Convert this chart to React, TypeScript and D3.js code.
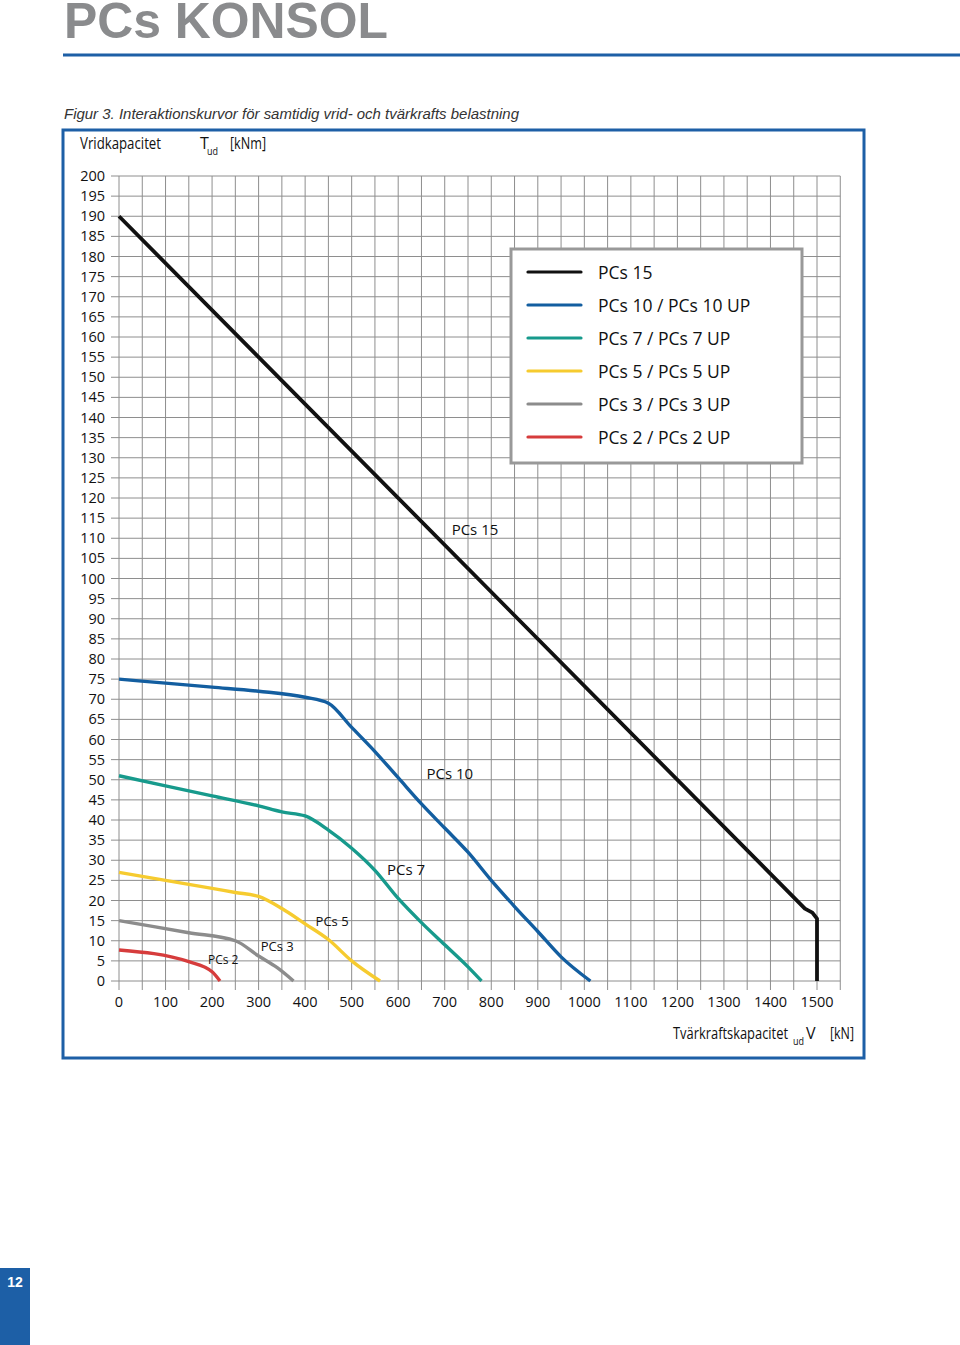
import * as d3 from "d3";

// curve data: [V_ud kN, T_ud kNm]
const pcs15: [number, number][] = [[0, 190], [1474, 18], [1490, 17], [1500, 15.5], [1500, 0]];
const pcs10: [number, number][] = [[0, 75], [100, 74], [200, 73], [300, 72], [400, 70.5], [450, 69], [500, 63], [550, 57], [600, 50.5], [650, 44], [700, 38], [750, 32], [800, 25], [850, 18.5], [900, 12.3], [950, 6], [1013, 0]];
const pcs7: [number, number][] = [[0, 51], [100, 48.5], [200, 46], [300, 43.5], [350, 42], [400, 41], [450, 37.5], [500, 33], [550, 27.5], [600, 20.5], [650, 14.5], [700, 9], [750, 3.5], [779, 0]];
const pcs5: [number, number][] = [[0, 27], [100, 25], [200, 23], [250, 22], [300, 21], [350, 18], [400, 14.2], [450, 10.3], [500, 5], [561, 0]];
const pcs3: [number, number][] = [[0, 15], [150, 12], [250, 10], [300, 6.2], [340, 3.3], [375, 0]];
const pcs2: [number, number][] = [[0, 7.7], [150, 4.8], [200, 2.3], [217, 0]];

const seriesNames = ["PCs 15", "PCs 10 / PCs 10 UP", "PCs 7 / PCs 7 UP", "PCs 5 / PCs 5 UP", "PCs 3 / PCs 3 UP", "PCs 2 / PCs 2 UP"];
const seriesColors = ["#111111", "#135ea0", "#179a8c", "#f6cb2f", "#8c8c8c", "#d63c3c"];
const seriesData = [pcs15, pcs10, pcs7, pcs5, pcs3, pcs2];

// curve labels: text, data position of the label centre/baseline, font size
const curveLabels: [string, number, number, number][] = [
  ["PCs 15", 765, 110.8, 15],
  ["PCs 10", 711, 50.2, 15],
  ["PCs 7", 617, 26.3, 15],
  ["PCs 5", 458, 13.7, 13],
  ["PCs 3", 340, 7.5, 13],
  ["PCs 2", 224, 4.2, 12],
];

const xTicks = d3.range(0, 1501, 100);
const yTicks = d3.range(0, 201, 5);
const xGrid = d3.range(0, 1551, 50);

const W = 960;
const H = 1345;
const BLUE = "#1d5fa6";

export default function App() {
  const x = d3.scaleLinear().domain([0, 1500]).range([119, 817]);
  const y = d3.scaleLinear().domain([0, 200]).range([981, 176]);
  const line = d3
    .line<[number, number]>()
    .x((d) => x(d[0]))
    .y((d) => y(d[1]))
    .curve(d3.curveMonotoneX);
  const line15 = d3
    .line<[number, number]>()
    .x((d) => x(d[0]))
    .y((d) => y(d[1]));

  const font = "'Open Sans', 'Noto Sans', sans-serif";
  const fit = "spacingAndGlyphs";

  return (
    <div style={{ position: "absolute", left: 0, top: 0 }}>
      <svg width={W} height={H} viewBox={`0 0 ${W} ${H}`} style={{ display: "block", background: "#fff" }}>
        {/* header */}
        <text x={64} y={38} fontFamily="'Liberation Sans', Arial, sans-serif" fontWeight="bold" fontSize={50} fill="#8a8b8d" textLength={324} lengthAdjust={fit}>
          PCs KONSOL
        </text>
        <line x1={63} x2={960} y1={55} y2={55} stroke={BLUE} strokeWidth={3} />
        <text x={64} y={119} fontFamily="'Liberation Sans', Arial, sans-serif" fontStyle="italic" fontSize={15} fill="#333" textLength={455} lengthAdjust={fit}>
          Figur 3. Interaktionskurvor för samtidig vrid- och tvärkrafts belastning
        </text>

        {/* frame */}
        <rect x={63} y={130} width={801} height={928} fill="none" stroke={BLUE} strokeWidth={3} />

        {/* grid */}
        <g stroke="#8e8e8e" strokeWidth={1}>
          {yTicks.map((t) => (
            <line key={"h" + t} x1={111} x2={x(1550)} y1={y(t)} y2={y(t)} />
          ))}
          {xGrid.map((t) => (
            <line key={"v" + t} x1={x(t)} x2={x(t)} y1={y(200)} y2={y(0) + 9} />
          ))}
        </g>

        {/* tick labels */}
        <g fontFamily={font} fontSize={14.5} fill="#111">
          {yTicks.map((t) => (
            <text key={"yl" + t} x={105} y={y(t) + 5} textAnchor="end">
              {t}
            </text>
          ))}
          {xTicks.map((t) => (
            <text key={"xl" + t} x={x(t)} y={1007} textAnchor="middle">
              {t}
            </text>
          ))}
        </g>

        {/* axis titles */}
        <g fontFamily={font} fontSize={16} fill="#111">
          <text x={80} y={149} textLength={81} lengthAdjust={fit}>Vridkapacitet</text>
          <text x={200} y={149}>T</text>
          <text x={207} y={155} fontSize={10} textLength={11} lengthAdjust={fit}>ud</text>
          <text x={230} y={149} textLength={36} lengthAdjust={fit}>[kNm]</text>
          <text x={673} y={1039} textLength={115} lengthAdjust={fit}>Tvärkraftskapacitet</text>
          <text x={793} y={1045} fontSize={10} textLength={11} lengthAdjust={fit}>ud</text>
          <text x={806} y={1039}>V</text>
          <text x={830} y={1039} textLength={24} lengthAdjust={fit}>[kN]</text>
        </g>

        {/* curves */}
        {seriesData.map((d, i) => (
          <path
            key={seriesNames[i]}
            d={(i === 0 ? line15 : line)(d) || ""}
            fill="none"
            stroke={seriesColors[i]}
            strokeWidth={i === 0 ? 3.8 : 3.4}
            strokeLinejoin="round"
          />
        ))}

        {/* curve labels */}
        {curveLabels.map(([t, vx, vy, fs]) => (
          <text key={t} x={x(vx)} y={y(vy)} fontFamily={font} fontSize={fs} fill="#111" textAnchor="middle">
            {t}
          </text>
        ))}

        {/* legend */}
        <rect x={511} y={249} width={291} height={214} fill="#fff" stroke="#999" strokeWidth={3} />
        {seriesNames.map((n, i) => (
          <g key={"lg" + n} transform={`translate(0, ${272 + i * 33})`}>
            <line x1={528} x2={581} y1={0} y2={0} stroke={seriesColors[i]} strokeWidth={3.2} strokeLinecap="round" />
            <text x={598} y={7} fontFamily={font} fontSize={17.5} fill="#111">
              {n}
            </text>
          </g>
        ))}

        {/* page number */}
        <rect x={0} y={1268} width={30} height={77} fill={BLUE} />
        <text x={15} y={1287} textAnchor="middle" fontFamily="'Liberation Sans', Arial, sans-serif" fontWeight="bold" fontSize={14} fill="#fff">
          12
        </text>
      </svg>
    </div>
  );
}
